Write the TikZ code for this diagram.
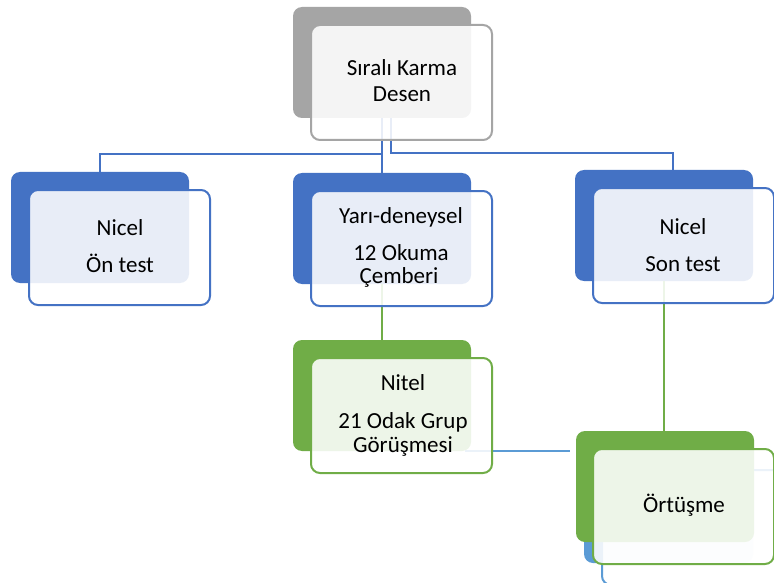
\documentclass[tikz,border=0pt]{standalone}
\usepackage{fontspec}
\setmainfont{Carlito}
\definecolor{cblue}{HTML}{4472C4}
\definecolor{cgreen}{HTML}{70AD47}
\definecolor{cgray}{HTML}{A5A5A5}
\definecolor{clblue}{HTML}{5B9BD5}
\begin{document}
\begin{tikzpicture}[x=1pt,y=-1pt,
  backbox/.style={rectangle, rounded corners=9pt, inner sep=0pt, minimum width=178pt, minimum height=111pt, fill=#1},
  frontbox/.style={rectangle, rounded corners=9pt, inner sep=0pt, minimum width=181pt, minimum height=115pt, draw=#1, line width=2pt, fill=white, fill opacity=0.88},
  txt/.style={anchor=base, inner sep=0pt, font=\fontsize{23}{23}\selectfont, text=black},
  conn/.style={draw=cblue, line width=2.3pt},
  gconn/.style={draw=cgreen, line width=2.3pt},
  lconn/.style={draw=clblue, line width=2.3pt}]
\useasboundingbox (0,0) rectangle (774,583);
\fill[white] (0,0) rectangle (774,583);
% back boxes
\node[backbox=cgray]  (topB)   at (382,62.5)  {};
\node[backbox=cblue]  (leftB)  at (100,227.5) {};
\node[backbox=cblue]  (midB)   at (382,228.5) {};
\node[backbox=cblue]  (rightB) at (664,225.5) {};
\node[backbox=cgreen] (nitB)   at (382,395.5) {};
\node[backbox=clblue, minimum width=169pt] (hidB) at (668.5,507.5) {};
% connectors
\coordinate (jL) at (382,154);
\coordinate (jR) at (391,153);
\draw[conn] (topB.south) -- (midB.north);
\draw[conn] (jL) -| (leftB.north);
\draw[conn] ([xshift=9pt]topB.south) -- (jR) -| ([xshift=9pt]rightB.north);
\draw[gconn] (midB.south) -- (nitB.north);
% hidden front box
\node[frontbox=clblue] (hidF) at (692.5,527.5) {};
% Ortusme back box
\node[backbox=cgreen] (ortB) at (665,486.5) {};
\draw[gconn] (rightB.south) -- (rightB.south |- ortB.north);
\draw[lconn] ([xshift=-6pt]nitB.south east) -- ([xshift=-6pt]nitB.south east -| ortB.west);
% front boxes
\node[frontbox=cgray]  (topF)   at (401.5,82.5)  {};
\node[frontbox=cblue]  (leftF)  at (119.5,247.5) {};
\node[frontbox=cblue]  (midF)   at (401.5,248.5) {};
\node[frontbox=cblue]  (rightF) at (683.5,245.5) {};
\node[frontbox=cgreen] (nitF)   at (401.5,415.5) {};
\node[frontbox=cgreen] (ortF)   at (683.5,506.5) {};
% texts
\node[txt] (topT1) at (402,76)  {Sıralı Karma};
\node[txt] (topT2) at (402,102) {Desen};
\node[txt] (leftT1) at (120,235) {Nicel};
\node[txt] (leftT2) at (120,272) {Ön test};
\node[txt] (midT1) at (401,223) {Yarı-deneysel};
\node[txt] (midT2) at (401,260) {12 Okuma};
\node[txt] (midT3) at (399,283) {Çemberi};
\node[txt] (rightT1) at (683,234) {Nicel};
\node[txt] (rightT2) at (683,271) {Son test};
\node[txt] (nitT1) at (403,390) {Nitel};
\node[txt] (nitT2) at (403,428) {21 Odak Grup};
\node[txt] (nitT3) at (403,452) {Görüşmesi};
\node[txt] (ortT) at (684,512) {Örtüşme};
\end{tikzpicture}
\end{document}
